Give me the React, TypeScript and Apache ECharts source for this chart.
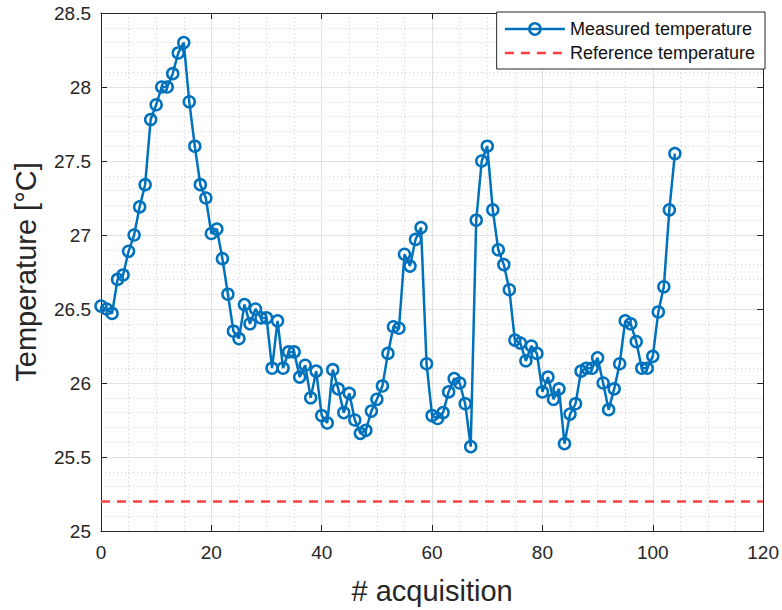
import React, { useEffect, useRef } from "react";
import * as echarts from "echarts";

const measured: number[] = [
  26.52, 26.5, 26.47, 26.7, 26.73, 26.89, 27.0, 27.19, 27.34, 27.78,
  27.88, 28.0, 28.0, 28.09, 28.23, 28.3, 27.9, 27.6, 27.34, 27.25,
  27.01, 27.04, 26.84, 26.6, 26.35, 26.3, 26.53, 26.4, 26.5, 26.44,
  26.44, 26.1, 26.42, 26.1, 26.21, 26.21, 26.04, 26.12, 25.9, 26.08,
  25.78, 25.73, 26.09, 25.96, 25.8, 25.93, 25.75, 25.66, 25.68, 25.81,
  25.89, 25.98, 26.2, 26.38, 26.37, 26.87, 26.79, 26.97, 27.05, 26.13,
  25.78, 25.76, 25.8, 25.94, 26.03, 26.0, 25.86, 25.57, 27.1, 27.5,
  27.6, 27.17, 26.9, 26.8, 26.63, 26.29, 26.27, 26.15, 26.25, 26.2,
  25.94, 26.04, 25.89, 25.96, 25.59, 25.79, 25.86, 26.08, 26.1, 26.1,
  26.17, 26.0, 25.82, 25.96, 26.13, 26.42, 26.4, 26.28, 26.1, 26.1,
  26.18, 26.48, 26.65, 27.17, 27.55,
];
const referenceValue = 25.2;
const referenceRange: number[] = [0, 120];

const FONT = "Liberation Sans, Arial, Helvetica, sans-serif";
const AXIS_COLOR = "#262626";

export default function App() {
  const ref = useRef<HTMLDivElement>(null);
  useEffect(() => {
    if (!ref.current) return;
    const chart = echarts.init(ref.current, undefined, { renderer: "svg" });
    const measuredData = measured.map((v, i) => [i, v]);
    const refData = referenceRange.map((x) => [x, referenceValue]);
    const axisCommon = {
      axisLine: { show: true, onZero: false, lineStyle: { color: AXIS_COLOR, width: 1 } },
      axisTick: { show: true, inside: true, length: 6, lineStyle: { color: AXIS_COLOR } },
    };
    chart.setOption({
      animation: false,
      backgroundColor: "#ffffff",
      textStyle: { fontFamily: FONT },
      grid: { left: 101, right: 17, top: 13, bottom: 78, containLabel: false },
      legend: {
        orient: "vertical",
        right: 17,
        top: 12,
        padding: [8, 10, 7, 7],
        itemGap: 6,
        itemWidth: 60,
        itemHeight: 14,
        itemTextGap: 5,
        borderColor: AXIS_COLOR,
        borderWidth: 1,
        borderRadius: 0,
        backgroundColor: "#ffffff",
        textStyle: { fontFamily: FONT, fontSize: 18, color: "#111" },
        data: [
          {
            name: "Measured temperature",
            lineStyle: { width: 2.5, color: "#0072BD" },
            itemStyle: { color: "rgba(255,255,255,0)", borderColor: "#0072BD", borderWidth: 2.5 },
          },
          {
            name: "Reference temperature",
            lineStyle: { width: 2.5, color: "#FF4040", type: [9, 7] },
            itemStyle: { opacity: 0 },
          },
        ],
      },
      xAxis: [
        {
          type: "value",
          min: 0,
          max: 120,
          interval: 20,
          name: "# acquisition",
          nameLocation: "middle",
          nameGap: 45,
          nameTextStyle: { fontSize: 29, color: AXIS_COLOR, fontFamily: FONT },
          ...axisCommon,
          axisLabel: { fontSize: 19, color: AXIS_COLOR, margin: 12, fontFamily: FONT },
          splitLine: { show: true, lineStyle: { color: "#e2e2e2", width: 1 } },
          minorTick: { show: false, splitNumber: 4 },
          minorSplitLine: { show: true, lineStyle: { color: "#cfcfcf", type: [1, 3], width: 1 } },
        },
        {
          type: "value",
          position: "top",
          min: 0,
          max: 120,
          interval: 20,
          ...axisCommon,
          axisLabel: { show: false },
          splitLine: { show: false },
        },
      ],
      yAxis: [
        {
          type: "value",
          min: 25,
          max: 28.5,
          interval: 0.5,
          name: "Temperature [°C]",
          nameLocation: "middle",
          nameGap: 61,
          nameTextStyle: { fontSize: 29, color: AXIS_COLOR, fontFamily: FONT },
          ...axisCommon,
          axisLabel: { fontSize: 19, color: AXIS_COLOR, margin: 10, fontFamily: FONT },
          splitLine: { show: true, lineStyle: { color: "#e2e2e2", width: 1 } },
          minorTick: { show: false, splitNumber: 5 },
          minorSplitLine: { show: true, lineStyle: { color: "#cfcfcf", type: [1, 3], width: 1 } },
        },
        {
          type: "value",
          position: "right",
          min: 25,
          max: 28.5,
          interval: 0.5,
          ...axisCommon,
          axisLabel: { show: false },
          splitLine: { show: false },
        },
      ],
      series: [
        {
          name: "Measured temperature",
          type: "line",
          data: measuredData,
          symbol: "circle",
          symbolSize: 11,
          showAllSymbol: true,
          lineStyle: { color: "#0072BD", width: 2.5 },
          itemStyle: { color: "rgba(255,255,255,0)", borderColor: "#0072BD", borderWidth: 2.5 },
          z: 3,
        },
        {
          name: "Reference temperature",
          type: "line",
          data: refData,
          symbol: "none",
          lineStyle: { color: "#FF4040", width: 2.5, type: [9, 7] },
          itemStyle: { color: "#FF4040" },
          z: 2,
        },
      ],
    });
    return () => chart.dispose();
  }, []);
  return <div ref={ref} style={{ width: 782, height: 610, position: "absolute", left: 0, top: 0 }} />;
}
